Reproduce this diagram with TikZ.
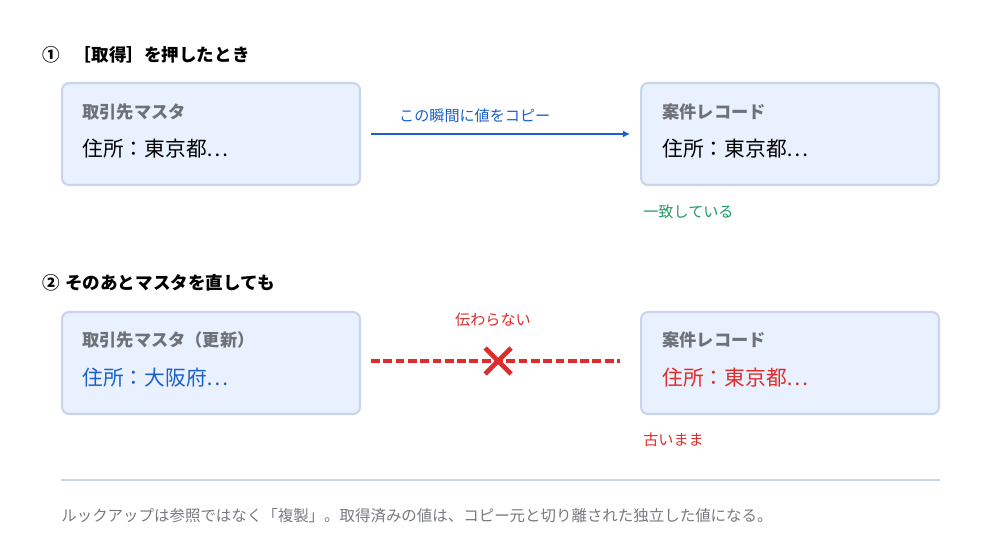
\documentclass[tikz,border=0pt]{standalone}
\usepackage{fontspec}
\setmainfont{Noto Sans CJK JP}
\newfontfamily\cjk{Noto Sans CJK JP}
\usepackage{xcolor}
\usetikzlibrary{arrows.meta,positioning}
\definecolor{boxfill}{HTML}{E8F1FD}
\definecolor{boxline}{HTML}{C9D6EA}
\definecolor{copyblue}{HTML}{1A5FCC}
\definecolor{okgreen}{HTML}{1E9A60}
\definecolor{ngred}{HTML}{DD2C2C}
\definecolor{labelgray}{HTML}{6E7178}
\definecolor{notegray}{HTML}{777A80}

\begin{document}
\begin{tikzpicture}
  [x=0.02cm,y=-0.02cm,every node/.style={inner sep=0pt,anchor=west,font=\cjk}]
\tikzset{%
recbox/.style={rectangle,draw=boxline,fill=boxfill,line width=1.2pt,rounded corners=4pt,minimum width=5.96cm,minimum height=2.04cm,anchor=north west},
boxtitle/.style={font=\cjk\fontsize{9.8pt}{11pt}\selectfont\bfseries,text=labelgray},
boxvalue/.style={font=\cjk\fontsize{11.8pt}{13pt}\selectfont},
steptitle/.style={font=\cjk\fontsize{10pt}{11pt}\selectfont\bfseries},
smalllabel/.style={font=\cjk\fontsize{8.6pt}{10pt}\selectfont}
}
\useasboundingbox (0,0) rectangle (1000,560);
  % step 1
  \node[steptitle] (t1) at (42,55) {①\hspace{0.8em}［取得］を押したとき};
  \node[recbox] (m1) at (61,82) {};
  \node[boxtitle] (m1t) at (82,112) {取引先マスタ};
  \node[boxvalue] (m1v) at (82,149) {住所：東京都…};
  \node[recbox] (r1) at (640,82) {};
  \node[boxtitle] (r1t) at (662,112) {案件レコード};
  \node[boxvalue] (r1v) at (662,149) {住所：東京都…};
  \draw[copyblue,line width=1.3pt,-{Latex[length=4pt,width=4pt]}] ([xshift=0.2cm]m1.east |- 0,134) -- ([xshift=-0.2cm]r1.west |- 0,134)
    node[pos=0,anchor=south west,xshift=0.54cm,yshift=0.2cm,smalllabel,text=copyblue] (copylbl) {この瞬間に値をコピー};
  \node[smalllabel,text=okgreen] (same) at (643,212) {一致している};
  % step 2
  \node[steptitle] (t2) at (42,283) {②\hspace{0.3em}そのあとマスタを直しても};
  \node[recbox] (m2) at (61,311) {};
  \node[boxtitle] (m2t) at (82,340) {取引先マスタ（更新）};
  \node[boxvalue,text=copyblue] (m2v) at (82,378) {住所：大阪府…};
  \node[recbox] (r2) at (640,311) {};
  \node[boxtitle] (r2t) at (662,340) {案件レコード};
  \node[boxvalue,text=ngred] (r2v) at (662,378) {住所：東京都…};
  \coordinate (dashl) at ([xshift=0.2cm]m2.east |- 0,361);
  \coordinate (dashr) at ([xshift=-0.4cm]r2.west |- 0,361);
  \draw[ngred,line width=1.8pt,dash pattern=on 5pt off 2pt] (dashl) -- (dashr)
    coordinate[pos=0.51] (cross);
  \draw[ngred,line width=2.6pt] ([shift={(-13,-13)}]cross) -- ([shift={(13,13)}]cross)
    ([shift={(-13,13)}]cross) -- ([shift={(13,-13)}]cross);
  \node[smalllabel,text=ngred,anchor=center] (nolbl) at (493,320) {伝わらない};
  \node[smalllabel,text=ngred] (old) at (643,440) {古いまま};
  % note
  \coordinate (rulel) at (61,480);
  \coordinate (ruler) at (940,480);
  \draw[boxline,line width=1.2pt] (rulel) -- (ruler);
  \node[smalllabel,text=notegray,font=\cjk\fontsize{8.8pt}{10pt}\selectfont] (note) at (61,516) {ルックアップは参照ではなく「複製」。取得済みの値は、コピー元と切り離された独立した値になる。};
\end{tikzpicture}
\end{document}
